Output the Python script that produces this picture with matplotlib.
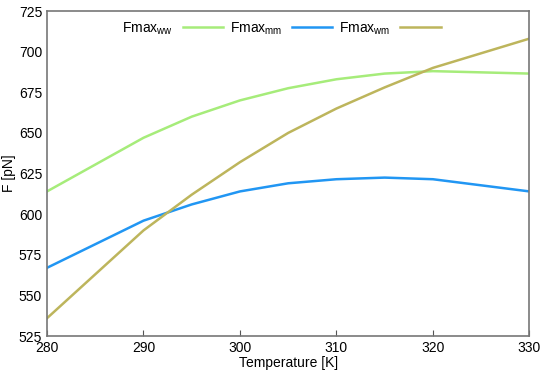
import matplotlib
matplotlib.use("Agg")
import matplotlib.pyplot as plt

plt.rcParams['font.family'] = ['Liberation Sans', 'DejaVu Sans']

temps = [280, 290, 295, 300, 305, 310, 315, 320, 330]
f_ww = [614, 647, 660, 670, 677.5, 683, 686.5, 688, 686.5]
f_mm = [567, 596, 606, 614, 619, 621.5, 622.5, 621.5, 614]
f_wm = [536, 590, 612, 632, 650, 665, 678, 690, 708]

fig = plt.figure(figsize=(5.5, 3.73), dpi=100)
ax = fig.add_axes([0.0855, 0.099, 0.877, 0.8715])

ax.plot(temps, f_ww, color='#a6ec7a', lw=1.8, label='Fmax$_{\\mathregular{ww}}$')
ax.plot(temps, f_mm, color='#2196f3', lw=1.8, label='Fmax$_{\\mathregular{mm}}$')
ax.plot(temps, f_wm, color='#bdb55c', lw=1.8, label='Fmax$_{\\mathregular{wm}}$')

ax.set_xlim(280, 330)
ax.set_ylim(525, 725)
ax.set_xticks([280, 290, 300, 310, 320, 330])
ax.set_yticks(range(525, 726, 25))
ax.tick_params(direction='in', length=4, labelsize=10, color='#555555')
ax.tick_params(axis='y', length=0)
for s in ax.spines.values():
    s.set_color('#777777')
    s.set_linewidth(1.2)

ax.set_xlabel('Temperature [K]', fontsize=10, labelpad=1)
ax.set_ylabel('F [pN]', fontsize=10, labelpad=2)

ax.legend(loc='upper left', bbox_to_anchor=(0.13, 1.01), ncol=3, frameon=False,
          markerfirst=False, fontsize=10, handlelength=2.9, columnspacing=0.5,
          handletextpad=0.7)

fig.savefig('out.png', dpi=100)
